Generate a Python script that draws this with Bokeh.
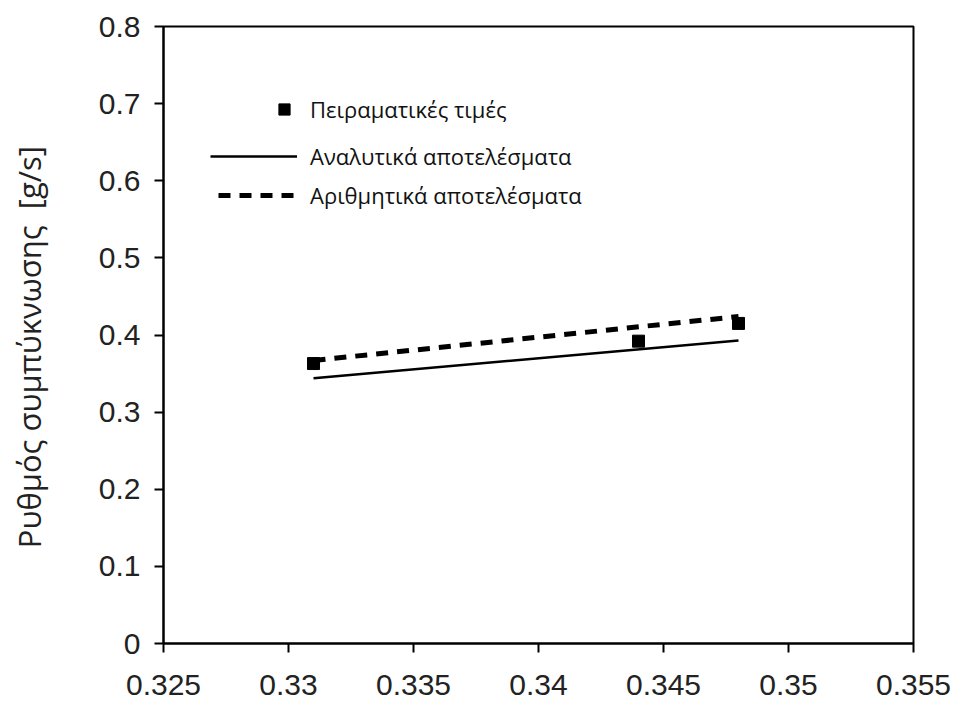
from bokeh.plotting import figure
from bokeh.models import Range1d, FixedTicker, Legend, LegendItem
from bokeh.embed import file_html
from bokeh.resources import INLINE

# Data
exp_x = [0.331, 0.344, 0.348]
exp_y = [0.363, 0.392, 0.415]
ana_x = [0.331, 0.348]
ana_y = [0.344, 0.393]
num_x = [0.331, 0.348]
num_y = [0.367, 0.424]

x_ticks = [0.325, 0.33, 0.335, 0.34, 0.345, 0.35, 0.355]
y_ticks = [0, 0.1, 0.2, 0.3, 0.4, 0.5, 0.6, 0.7, 0.8]
x_labels = {0.325: "0.325", 0.33: "0.33", 0.335: "0.335", 0.34: "0.34",
            0.345: "0.345", 0.35: "0.35", 0.355: "0.355"}
y_labels = {0: "0", 0.1: "0.1", 0.2: "0.2", 0.3: "0.3", 0.4: "0.4",
            0.5: "0.5", 0.6: "0.6", 0.7: "0.7", 0.8: "0.8"}

legend_labels = ["Πειραματικές τιμές", "Αναλυτικά αποτελέσματα", "Αριθμητικά αποτελέσματα"]
y_title = "Ρυθμός συμπύκνωσης\u00a0\u00a0[g/s]\u00a0\u00a0\u00a0"

p = figure(width=957, height=706, output_backend="svg", toolbar_location=None,
           x_range=Range1d(0.325, 0.355), y_range=Range1d(0, 0.8),
           min_border_left=163, min_border_right=44, min_border_top=26, min_border_bottom=63)
p.grid.visible = False
p.background_fill_color = "white"
p.border_fill_color = "white"
p.outline_line_color = "black"
p.outline_line_width = 2

for ax in (p.xaxis[0], p.yaxis[0]):
    ax.axis_line_width = 2
    ax.axis_line_color = "black"
    ax.major_tick_line_width = 2
    ax.major_tick_line_color = "black"
    ax.major_tick_out = 9
    ax.major_tick_in = 0
    ax.minor_tick_line_color = None
    ax.major_label_text_font = "Liberation Sans"
    ax.major_label_text_font_size = "30px"
    ax.major_label_text_color = "#222222"

p.xaxis[0].ticker = FixedTicker(ticks=x_ticks)
p.xaxis[0].major_label_overrides = x_labels
p.xaxis[0].major_label_standoff = 22
p.yaxis[0].ticker = FixedTicker(ticks=y_ticks)
p.yaxis[0].major_label_overrides = y_labels
p.yaxis[0].major_label_standoff = 14
p.yaxis[0].axis_label = y_title
p.yaxis[0].axis_label_text_font = "Open Sans"
p.yaxis[0].axis_label_text_font_style = "normal"
p.yaxis[0].axis_label_text_font_size = "31px"
p.yaxis[0].axis_label_text_color = "#222222"
p.yaxis[0].axis_label_standoff = 46

r_num = p.line(num_x, num_y, line_color="black", line_width=5, line_dash="12 9")
r_ana = p.line(ana_x, ana_y, line_color="black", line_width=2.5)
r_exp = p.scatter(exp_x, exp_y, marker="square", size=12, fill_color="black", line_color="black")

common = dict(orientation="vertical", padding=0, margin=0, border_line_color=None,
              background_fill_alpha=0, label_text_font="Open Sans",
              label_text_font_size="22px", label_text_color="#111111",
              label_height=40, spacing=0)

leg1 = Legend(items=[LegendItem(label=legend_labels[0], renderers=[r_exp])],
              location=(107, 514), glyph_width=28, glyph_height=28, label_standoff=12, **common)
leg2 = Legend(items=[LegendItem(label=legend_labels[1], renderers=[r_ana])],
              location=(47, 467), glyph_width=87, glyph_height=40, label_standoff=13, **common)
leg3 = Legend(items=[LegendItem(label=legend_labels[2], renderers=[r_num])],
              location=(55, 428), glyph_width=79, glyph_height=40, label_standoff=13, **common)
for lg in (leg1, leg2, leg3):
    p.add_layout(lg, "center")

open("out.html", "w").write(file_html(p, INLINE))
